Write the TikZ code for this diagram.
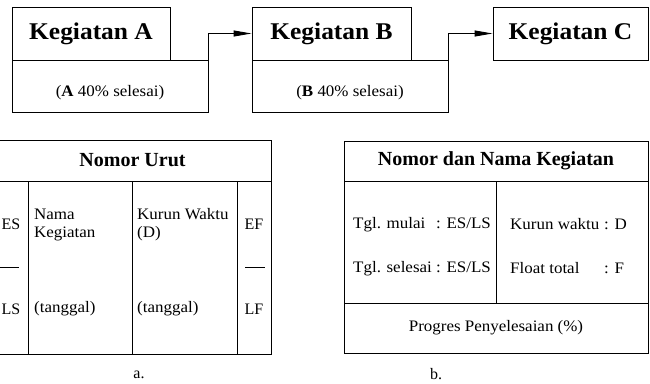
\documentclass[tikz,border=0pt]{standalone}
\usepackage{fontspec}
\setmainfont{Liberation Serif}
\usepackage{graphicx}
\usetikzlibrary{arrows.meta,positioning}

\newcommand{\lebar}[1]{\scalebox{1.06}[1]{#1}}

\begin{document}
\begin{tikzpicture}[x=1pt,y=-1pt,
  kotak/.style={draw,line width=0.9pt,inner sep=0pt},
  judul/.style={font=\bfseries\fontsize{24}{28}\selectfont},
  kepala/.style={font=\bfseries\fontsize{20}{24}\selectfont,inner sep=0pt},
  isi/.style={font=\fontsize{16}{18.4}\selectfont,inner sep=0pt},
  garis/.style={line width=0.9pt},
  panah/.style={line width=0.9pt,-{Triangle[length=18pt,width=6pt]}}]
 \path[use as bounding box,clip] (0,0) rectangle (650,383);

 % kegiatan A, B, C
 \node[kotak,judul,minimum width=158pt,minimum height=53pt] (kgA) at (91,33.5) {\lebar{Kegiatan A}};
 \node[kotak,anchor=north west,minimum width=196pt,minimum height=52pt] (ketA) at (kgA.south west) {};
 \node[isi] (pA) at (110,93) {\lebar{(\textbf{A} 40\% selesai)}};

 \node[kotak,judul,minimum width=159pt,minimum height=53pt] (kgB) at (331.5,33.5) {\lebar{Kegiatan B}};
 \node[kotak,anchor=north west,minimum width=196pt,minimum height=52pt] (ketB) at (kgB.south west) {};
 \node[isi] (pB) at (350,93) {\lebar{(\textbf{B} 40\% selesai)}};

 \node[kotak,judul,minimum width=155pt,minimum height=53pt] (kgC) at (570.5,33.5) {\lebar{Kegiatan C}};

 \draw[panah] (ketA.north east) |- (kgB.west);
 \draw[panah] (ketB.north east) |- (kgC.west);

 % a.
 \draw[garis] (-6,140) rectangle (271,354);
 \draw[garis] (-6,181) -- (271,181);
 \foreach \x in {28,132,237}
   \draw[garis] (\x,181) -- (\x,354);
 \draw[garis] (0,267.5) -- (19,267.5);
 \draw[garis] (245,267.5) -- (265,267.5);
 \node[kepala] (nu) at (132.5,160.5) {Nomor Urut};
 \node[isi] (es) at (11,224) {ES};
 \node[isi] (ef) at (254,224) {EF};
 \node[isi] (ls) at (11,309) {LS};
 \node[isi] (lf) at (254,309) {LF};
 \node[isi,anchor=north west] (nama) at (34,206.4)
   {\lebar{\begin{tabular}{@{}l@{}}Nama\\Kegiatan\end{tabular}}};
 \node[isi,anchor=north west] (kurun) at (137,206.4)
   {\lebar{\begin{tabular}{@{}l@{}}Kurun Waktu\\(D)\end{tabular}}};
 \node[isi,anchor=west] (tg1) at (34,309) {\lebar{(tanggal)}};
 \node[isi,anchor=west] (tg2) at (137,309) {\lebar{(tanggal)}};
 \node[isi] (la) at (139,374.5) {a.};

 % b.
 \draw[garis] (344,141) rectangle (648,353);
 \draw[garis] (344,181) -- (648,181);
 \draw[garis] (496,181) -- (496,303);
 \draw[garis] (344,303) -- (648,303);
 \node[kepala] (nnk) at (496,161) {Nomor dan Nama Kegiatan};
 \node[isi,anchor=base west] (mul) at (353,228) {\lebar{Tgl. mulai}};
 \node[isi,anchor=base west] (mulv) at (436,228) {\lebar{: ES/LS}};
 \node[isi,anchor=base west] (sel) at (353,272) {\lebar{Tgl. selesai}};
 \node[isi,anchor=base west] (selv) at (436,272) {\lebar{: ES/LS}};
 \node[isi,anchor=base west] (kw) at (510,229) {\lebar{Kurun waktu}};
 \node[isi,anchor=base west] (kwv) at (604,229) {\lebar{: D}};
 \node[isi,anchor=base west] (ft) at (510,273) {\lebar{Float total}};
 \node[isi,anchor=base west] (ftv) at (604,273) {\lebar{: F}};
 \node[isi] (prog) at (496,328) {\lebar{Progres Penyelesaian (\%)}};
 \node[isi] (lb) at (436,374.5) {b.};
\end{tikzpicture}
\end{document}
